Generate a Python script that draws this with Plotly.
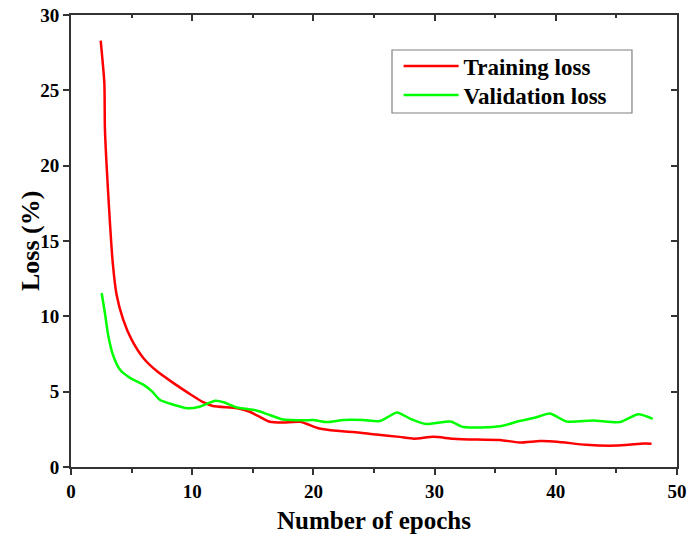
import plotly.graph_objects as go

# Training loss
train_epochs = [2.45, 2.75, 2.8, 3.08, 3.44, 3.77, 4.3, 5.0, 6.0, 7.1, 8.4, 9.7,
                10.9, 11.7, 13.7, 14.8, 16.4, 17.5, 18.9, 20.5, 21.9, 23.3, 25.2,
                27.1, 28.3, 29.9, 31.5, 33.5, 35.4, 37.0, 38.7, 40.1, 42.5, 45.0,
                47.0, 47.9]
train_loss = [28.3, 25.5, 22.4, 18.0, 13.6, 11.4, 9.8, 8.45, 7.2, 6.35, 5.6, 4.9,
              4.3, 4.05, 3.9, 3.65, 3.0, 2.95, 3.0, 2.55, 2.4, 2.33, 2.15,
              2.0, 1.88, 2.0, 1.88, 1.82, 1.8, 1.62, 1.72, 1.68, 1.47, 1.42,
              1.55, 1.55]

# Validation loss
val_epochs = [2.53, 2.8, 3.08, 3.5, 4.05, 4.9, 6.0, 6.7, 7.35, 8.4, 9.6, 10.6,
              11.9, 12.6, 13.7, 15.3, 16.4, 17.5, 19.2, 20.0, 21.1, 22.5, 24.1,
              25.5, 26.9, 28.0, 29.3, 31.3, 32.4, 35.4, 37.0, 38.4, 39.5, 40.9,
              43.1, 45.3, 46.8, 48.0]
val_loss = [11.55, 10.2, 8.7, 7.35, 6.45, 5.9, 5.45, 5.0, 4.45, 4.15, 3.9, 4.0,
            4.4, 4.3, 3.95, 3.75, 3.45, 3.15, 3.1, 3.12, 2.98, 3.12, 3.12,
            3.05, 3.62, 3.2, 2.85, 3.02, 2.65, 2.7, 3.05, 3.3, 3.55, 3.02,
            3.08, 2.98, 3.5, 3.2]

x_ticks = [0, 10, 20, 30, 40, 50]
y_ticks = [0, 5, 10, 15, 20, 25, 30]

FONT = "Liberation Serif"
AX = "#333333"

fig = go.Figure()
fig.add_trace(go.Scatter(x=train_epochs, y=train_loss, mode="lines", name="Training loss",
                         legend="legend",
                         line=dict(color="#ff0000", width=2.5, shape="spline", smoothing=0.6)))
fig.add_trace(go.Scatter(x=val_epochs, y=val_loss, mode="lines", name="Validation loss",
                         legend="legend2",
                         line=dict(color="#00ff00", width=2.5, shape="spline", smoothing=0.6)))
# invisible trace to carry the mirrored (inward-tick) top/right axes
fig.add_trace(go.Scatter(x=train_epochs, y=train_loss, mode="lines", xaxis="x2", yaxis="y2",
                         showlegend=False, hoverinfo="skip", opacity=0,
                         line=dict(color="rgba(0,0,0,0)")))

common = dict(showgrid=False, zeroline=False, showline=True, linecolor=AX, linewidth=1.8,
              tickcolor=AX, tickwidth=1.8, ticklabeloverflow="allow",
              tickfont=dict(family=FONT, size=19, color="black", weight="bold"))

leg_common = dict(xanchor="left", yanchor="middle", borderwidth=0,
                  bgcolor="rgba(0,0,0,0)", itemwidth=55,
                  font=dict(family=FONT, size=23, color="black", weight="bold"))

fig.update_layout(
    width=687, height=538,
    margin=dict(l=71, r=10, t=15, b=71, autoexpand=False),
    paper_bgcolor="white", plot_bgcolor="white",
    xaxis=dict(range=[0, 50], tickvals=x_ticks, ticks="outside", ticklen=6,
               minor=dict(dtick=5, ticklen=4, ticks="outside", tickcolor=AX, tickwidth=1.5),
               title=dict(text="Number of epochs", standoff=11,
                          font=dict(family=FONT, size=25, color="black", weight="bold")),
               **common),
    yaxis=dict(range=[0, 30], tickvals=y_ticks, ticks="outside", ticklen=6, **common),
    xaxis2=dict(range=[0, 50], tickvals=x_ticks, ticks="inside", ticklen=6, side="top",
                overlaying="x", showticklabels=False,
                minor=dict(dtick=5, ticklen=3, ticks="inside", tickcolor=AX, tickwidth=1.5),
                **common),
    yaxis2=dict(range=[0, 30], tickvals=y_ticks, ticks="inside", ticklen=6, side="right",
                overlaying="y", showticklabels=False, **common),
    legend=dict(x=0.5406, y=0.8871, **leg_common),
    legend2=dict(x=0.5406, y=0.8230, **leg_common),
    showlegend=True,
    shapes=[dict(type="rect", xref="paper", yref="paper",
                 x0=0.5297, x1=0.9257, y0=0.7832, y1=0.9226,
                 line=dict(color="#808080", width=1.2), fillcolor="rgba(0,0,0,0)",
                 layer="below")],
    annotations=[dict(text="Loss (%)", textangle=-90, xref="paper", yref="paper",
                      x=-0.0677, y=0.5, xanchor="center", yanchor="middle", showarrow=False,
                      font=dict(family=FONT, size=26, color="black", weight="bold"))],
)

fig.write_html("out.html", config={"displayModeBar": False},
               post_script="document.body.style.margin='0';document.body.style.overflow='hidden';")
